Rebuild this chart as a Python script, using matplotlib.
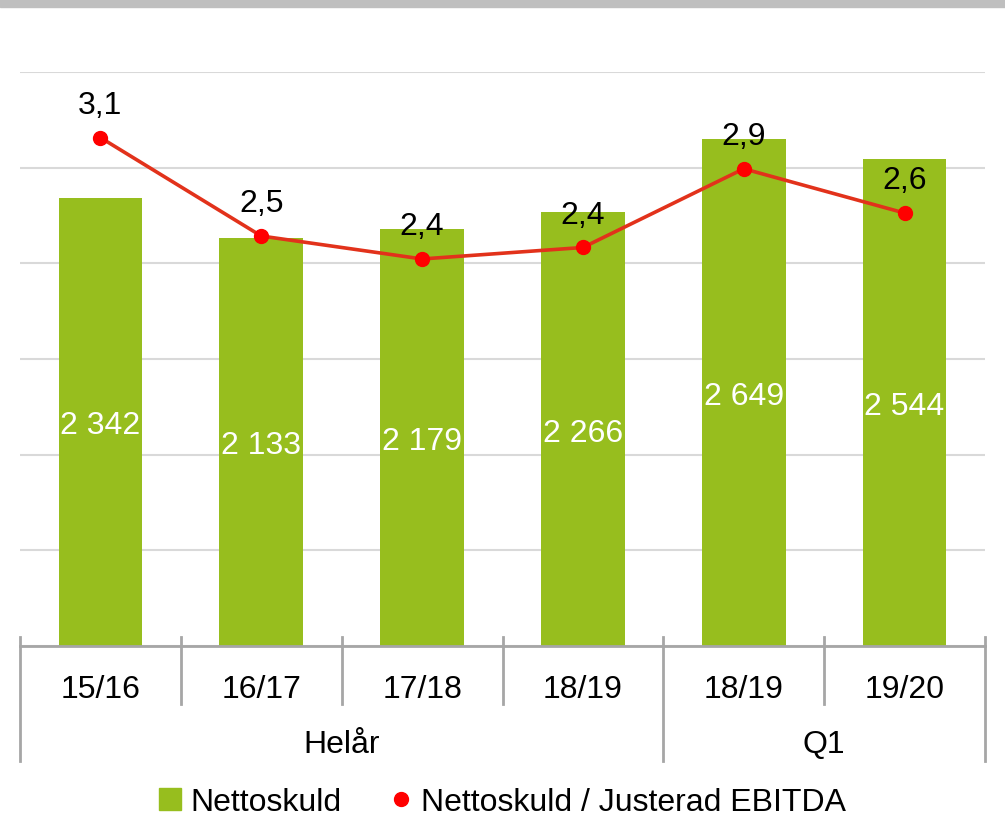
import matplotlib.pyplot as plt
from matplotlib.patches import Patch, Rectangle
from matplotlib.lines import Line2D
from matplotlib.transforms import blended_transform_factory

plt.rcParams['font.family'] = ['Liberation Sans', 'DejaVu Sans']

categories = ["15/16", "16/17", "17/18", "18/19", "18/19", "19/20"]
groups = ["Helår", "Q1"]
group_sizes = [4, 2]
nettoskuld = [2342, 2133, 2179, 2266, 2649, 2544]
ratio = [3.1, 2.5, 2.36, 2.43, 2.91, 2.64]

green = "#97BE1E"
line_red = "#E2321B"
dot_red = "#FF0000"
fs = 23

fig = plt.figure(figsize=(10.05, 8.37), dpi=100)
ax = fig.add_axes([20 / 1005, 190 / 837, 965 / 1005, 574 / 837])
x = list(range(len(categories)))

ax.bar(x, nettoskuld, width=0.52, color=green, zorder=2)
ax.set_ylim(0, 3000)
ax.set_xlim(-0.5, len(categories) - 0.5)
ax.set_yticks(range(0, 3001, 500))
ax.yaxis.grid(True, color="#D9D9D9", lw=1.5, zorder=0)
ax.set_yticklabels([])
for s in ["top", "right", "left"]:
    ax.spines[s].set_visible(False)
ax.spines["bottom"].set_color("#A6A6A6")
ax.spines["bottom"].set_linewidth(2)
ax.spines["bottom"].set_zorder(3)

for xi, v in zip(x, nettoskuld):
    ax.text(xi, v / 2, f"{v:,}".replace(",", " "), ha="center", va="center_baseline",
            color="white", fontsize=fs, zorder=4)

ax2 = ax.twinx()
ax2.set_ylim(0, 3.5)
ax2.axis("off")
ax2.plot(x, ratio, color=line_red, lw=2.6, zorder=3)
ax2.plot(x, ratio, "o", color=dot_red, ms=10, zorder=4)
for xi, v in zip(x, ratio):
    ax2.annotate(f"{v:.1f}".replace(".", ","), (xi, v), xytext=(0, 26),
                 textcoords="offset points", ha="center", va="center_baseline",
                 fontsize=fs, color="black")
ax.tick_params(axis="both", which="both", length=0, labelbottom=False, labelleft=False)

# two-level category axis
tr = blended_transform_factory(ax.transData, ax.transAxes)
for xi, c in zip(x, categories):
    ax.text(xi, -0.068, c, transform=tr, ha="center", va="center_baseline", fontsize=fs)
start = -0.5
ax.plot([start, start], [0.016, -0.2], transform=tr, color="#A6A6A6", lw=2, clip_on=False)
for g, n in zip(groups, group_sizes):
    end = start + n
    for b in range(1, n):
        ax.plot([start + b, start + b], [0.016, -0.101], transform=tr,
                color="#A6A6A6", lw=2, clip_on=False)
    ax.plot([end, end], [0.016, -0.2], transform=tr, color="#A6A6A6", lw=2, clip_on=False)
    ax.text((start + end) / 2, -0.165, g, transform=tr, ha="center", va="center_baseline",
            fontsize=fs)
    start = end

handles = [Patch(color=green, label="Nettoskuld"),
           Line2D([], [], marker="o", ls="none", color=dot_red, ms=10,
                  label="Nettoskuld / Justerad EBITDA")]
fig.legend(handles=handles, loc="center", bbox_to_anchor=(0.5, 34 / 837), ncol=2,
           frameon=False, fontsize=fs, handlelength=0.7, handleheight=0.7,
           handletextpad=0.3, columnspacing=1.5)

fig.patches.append(Rectangle((0, 1 - 8 / 837), 1, 8 / 837, transform=fig.transFigure,
                             color="#BFBFBF"))

fig.savefig("out.png", dpi=100)
